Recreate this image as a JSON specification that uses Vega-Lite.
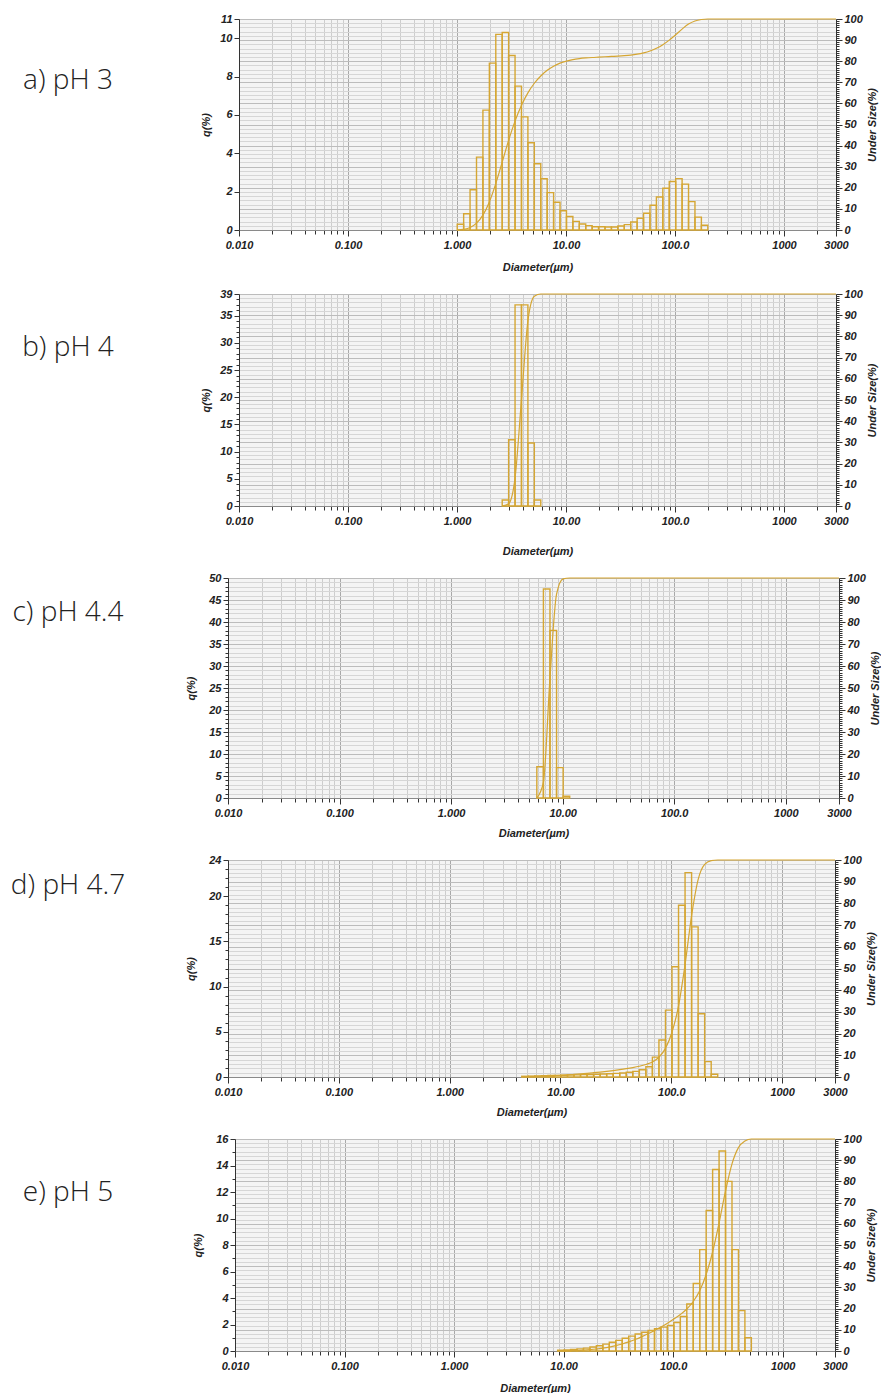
{
  "$schema": "https://vega.github.io/schema/vega-lite/v6.json",
  "padding": {"left": 0, "top": 13, "right": 0, "bottom": 0},
  "background": "white",
  "spacing": 16,
  "config": {
    "view": {"stroke": null},
    "axis": {
      "labelFont": "Liberation Sans", "labelFontSize": 11, "labelFontWeight": "bold", "labelFontStyle": "italic", "labelColor": "#222222",
      "titleFont": "Liberation Sans", "titleFontSize": 11, "titleFontWeight": "bold", "titleFontStyle": "italic", "titleColor": "#222222",
      "tickColor": "#333333", "domainColor": "#333333", "labelOverlap": false
    }
  },
  "datasets": {
    "ph3": [
      {"lo": 0.877, "hi": 1.005, "q": 0},
      {"lo": 1.005, "hi": 1.151, "q": 0.3},
      {"lo": 1.151, "hi": 1.318, "q": 0.85},
      {"lo": 1.318, "hi": 1.51, "q": 2.1},
      {"lo": 1.51, "hi": 1.729, "q": 3.8},
      {"lo": 1.729, "hi": 1.981, "q": 6.25},
      {"lo": 1.981, "hi": 2.269, "q": 8.7},
      {"lo": 2.269, "hi": 2.599, "q": 10.2},
      {"lo": 2.599, "hi": 2.976, "q": 10.3},
      {"lo": 2.976, "hi": 3.409, "q": 9.1},
      {"lo": 3.409, "hi": 3.905, "q": 7.5},
      {"lo": 3.905, "hi": 4.472, "q": 5.9},
      {"lo": 4.472, "hi": 5.122, "q": 4.55},
      {"lo": 5.122, "hi": 5.867, "q": 3.45},
      {"lo": 5.867, "hi": 6.72, "q": 2.67},
      {"lo": 6.72, "hi": 7.697, "q": 1.95},
      {"lo": 7.697, "hi": 8.816, "q": 1.45},
      {"lo": 8.816, "hi": 10.097, "q": 1.0},
      {"lo": 10.097, "hi": 11.565, "q": 0.7},
      {"lo": 11.565, "hi": 13.246, "q": 0.45},
      {"lo": 13.246, "hi": 15.172, "q": 0.31},
      {"lo": 15.172, "hi": 17.377, "q": 0.23},
      {"lo": 17.377, "hi": 19.904, "q": 0.17},
      {"lo": 19.904, "hi": 22.797, "q": 0.17},
      {"lo": 22.797, "hi": 26.111, "q": 0.16},
      {"lo": 26.111, "hi": 29.907, "q": 0.16},
      {"lo": 29.907, "hi": 34.255, "q": 0.21},
      {"lo": 34.255, "hi": 39.234, "q": 0.28},
      {"lo": 39.234, "hi": 44.938, "q": 0.42},
      {"lo": 44.938, "hi": 51.471, "q": 0.61},
      {"lo": 51.471, "hi": 58.953, "q": 0.87},
      {"lo": 58.953, "hi": 67.523, "q": 1.29},
      {"lo": 67.523, "hi": 77.339, "q": 1.72},
      {"lo": 77.339, "hi": 88.583, "q": 2.18},
      {"lo": 88.583, "hi": 101.46, "q": 2.53},
      {"lo": 101.46, "hi": 116.21, "q": 2.68},
      {"lo": 116.21, "hi": 133.103, "q": 2.39},
      {"lo": 133.103, "hi": 152.453, "q": 1.48},
      {"lo": 152.453, "hi": 174.616, "q": 0.67},
      {"lo": 174.616, "hi": 200.0, "q": 0.25},
      {"lo": 2636.467, "hi": 3000.0, "q": 0}
    ],
    "ph4": [
      {"lo": 2.269, "hi": 2.599, "q": 0},
      {"lo": 2.599, "hi": 2.976, "q": 1.1},
      {"lo": 2.976, "hi": 3.409, "q": 12.2},
      {"lo": 3.409, "hi": 3.905, "q": 37.0},
      {"lo": 3.905, "hi": 4.472, "q": 37.0},
      {"lo": 4.472, "hi": 5.122, "q": 11.6},
      {"lo": 5.122, "hi": 5.867, "q": 1.1},
      {"lo": 2636.467, "hi": 3000.0, "q": 0}
    ],
    "ph44": [
      {"lo": 5.122, "hi": 5.867, "q": 0},
      {"lo": 5.867, "hi": 6.72, "q": 7.1},
      {"lo": 6.72, "hi": 7.697, "q": 47.5},
      {"lo": 7.697, "hi": 8.816, "q": 38.1},
      {"lo": 8.816, "hi": 10.097, "q": 6.9},
      {"lo": 10.097, "hi": 11.565, "q": 0.4},
      {"lo": 2636.467, "hi": 3000.0, "q": 0}
    ],
    "ph47": [
      {"lo": 3.905, "hi": 4.472, "q": 0},
      {"lo": 4.472, "hi": 5.122, "q": 0.08},
      {"lo": 5.122, "hi": 5.867, "q": 0.1},
      {"lo": 5.867, "hi": 6.72, "q": 0.12},
      {"lo": 6.72, "hi": 7.697, "q": 0.14},
      {"lo": 7.697, "hi": 8.816, "q": 0.16},
      {"lo": 8.816, "hi": 10.097, "q": 0.18},
      {"lo": 10.097, "hi": 11.565, "q": 0.2},
      {"lo": 11.565, "hi": 13.246, "q": 0.22},
      {"lo": 13.246, "hi": 15.172, "q": 0.24},
      {"lo": 15.172, "hi": 17.377, "q": 0.26},
      {"lo": 17.377, "hi": 19.904, "q": 0.28},
      {"lo": 19.904, "hi": 22.797, "q": 0.3},
      {"lo": 22.797, "hi": 26.111, "q": 0.33},
      {"lo": 26.111, "hi": 29.907, "q": 0.36},
      {"lo": 29.907, "hi": 34.255, "q": 0.4},
      {"lo": 34.255, "hi": 39.234, "q": 0.45},
      {"lo": 39.234, "hi": 44.938, "q": 0.52},
      {"lo": 44.938, "hi": 51.471, "q": 0.62},
      {"lo": 51.471, "hi": 58.953, "q": 0.8},
      {"lo": 58.953, "hi": 67.523, "q": 1.14},
      {"lo": 67.523, "hi": 77.339, "q": 2.2},
      {"lo": 77.339, "hi": 88.583, "q": 4.1},
      {"lo": 88.583, "hi": 101.46, "q": 7.4},
      {"lo": 101.46, "hi": 116.21, "q": 12.2},
      {"lo": 116.21, "hi": 133.103, "q": 19.0},
      {"lo": 133.103, "hi": 152.453, "q": 22.6},
      {"lo": 152.453, "hi": 174.616, "q": 16.6},
      {"lo": 174.616, "hi": 200.0, "q": 7.0},
      {"lo": 200.0, "hi": 229.075, "q": 1.7},
      {"lo": 229.075, "hi": 262.376, "q": 0.3},
      {"lo": 2636.467, "hi": 3000.0, "q": 0}
    ],
    "ph5": [
      {"lo": 7.697, "hi": 8.816, "q": 0},
      {"lo": 8.816, "hi": 10.097, "q": 0.06},
      {"lo": 10.097, "hi": 11.565, "q": 0.08},
      {"lo": 11.565, "hi": 13.246, "q": 0.12},
      {"lo": 13.246, "hi": 15.172, "q": 0.16},
      {"lo": 15.172, "hi": 17.377, "q": 0.22},
      {"lo": 17.377, "hi": 19.904, "q": 0.3},
      {"lo": 19.904, "hi": 22.797, "q": 0.4},
      {"lo": 22.797, "hi": 26.111, "q": 0.52},
      {"lo": 26.111, "hi": 29.907, "q": 0.66},
      {"lo": 29.907, "hi": 34.255, "q": 0.8},
      {"lo": 34.255, "hi": 39.234, "q": 0.96},
      {"lo": 39.234, "hi": 44.938, "q": 1.12},
      {"lo": 44.938, "hi": 51.471, "q": 1.28},
      {"lo": 51.471, "hi": 58.953, "q": 1.42},
      {"lo": 58.953, "hi": 67.523, "q": 1.55},
      {"lo": 67.523, "hi": 77.339, "q": 1.68},
      {"lo": 77.339, "hi": 88.583, "q": 1.8},
      {"lo": 88.583, "hi": 101.46, "q": 1.92},
      {"lo": 101.46, "hi": 116.21, "q": 2.15},
      {"lo": 116.21, "hi": 133.103, "q": 2.6},
      {"lo": 133.103, "hi": 152.453, "q": 3.55},
      {"lo": 152.453, "hi": 174.616, "q": 5.1},
      {"lo": 174.616, "hi": 200.0, "q": 7.65},
      {"lo": 200.0, "hi": 229.075, "q": 10.6},
      {"lo": 229.075, "hi": 262.376, "q": 13.7},
      {"lo": 262.376, "hi": 300.518, "q": 15.1},
      {"lo": 300.518, "hi": 344.206, "q": 12.8},
      {"lo": 344.206, "hi": 394.244, "q": 7.65},
      {"lo": 394.244, "hi": 451.556, "q": 3.05},
      {"lo": 451.556, "hi": 517.2, "q": 1.0},
      {"lo": 2636.467, "hi": 3000.0, "q": 0}
    ]
  },
  "vconcat": [
    {
      "spacing": 64,
      "hconcat": [
        {"width": 136, "height": 124, "data": {"values": [{"label": "a) pH 3"}]},
         "mark": {"type": "text", "font": "Open Sans", "fontSize": 28, "fontWeight": 300, "color": "#222222"},
         "encoding": {"text": {"field": "label"}}},
        {"width": 597, "height": 211, "view": {"fill": "#f4f4f4"}, "data": {"name": "ph3"},
         "resolve": {"scale": {"y": "independent"}},
         "layer": [
           {"transform": [{"filter": "datum.q > 0"}],
            "mark": {"type": "bar", "fillOpacity": 0, "stroke": "#d5a633", "strokeWidth": 1.4},
            "encoding": {
              "x": {"field": "lo", "type": "quantitative", "scale": {"type": "log", "domain": [0.01, 3000], "nice": false},
                    "axis": {"title": "Diameter(µm)", "titlePadding": 11,
                             "values": [0.01,0.02,0.03,0.04,0.05,0.06,0.07,0.08,0.09,0.1,0.2,0.3,0.4,0.5,0.6,0.7,0.8,0.9,1,2,3,4,5,6,7,8,9,10,20,30,40,50,60,70,80,90,100,200,300,400,500,600,700,800,900,1000,2000,3000],
                             "labelExpr": "datum.value == 0.01 ? '0.010' : datum.value == 0.1 ? '0.100' : datum.value == 1 ? '1.000' : datum.value == 10 ? '10.00' : datum.value == 100 ? '100.0' : datum.value == 1000 ? '1000' : datum.value == 3000 ? '3000' : ''",
                             "labelFlush": false, "labelPadding": 3, "domainColor": "#8a8a8a",
                             "tickSize": {"condition": {"test": "indexof([0.01,0.1,1,10,100,1000,3000], datum.value) >= 0", "value": 6}, "value": 4},
                             "grid": true,
                             "gridColor": {"condition": {"test": "indexof([0.01,0.1,1,10,100,1000,3000], datum.value) >= 0", "value": "#a9a9a9"}, "value": "#cdcdcd"}}},
              "x2": {"field": "hi"},
              "y": {"field": "q", "type": "quantitative", "stack": null, "scale": {"domain": [0, 11], "nice": false},
                    "axis": {"title": "q(%)", "titlePadding": 8, "values": [0,2,4,6,8,10,11], "format": "d", "tickSize": 5, "labelPadding": 2, "grid": false}},
              "y2": {"datum": 0}
            }},
           {"transform": [{"window": [{"op": "sum", "field": "q", "as": "cum"}], "sort": [{"field": "lo", "order": "ascending"}], "frame": [null, 0]}],
            "mark": {"type": "line", "interpolate": "monotone", "color": "#d5a633", "strokeWidth": 1.2},
            "encoding": {
              "x": {"field": "hi", "type": "quantitative", "scale": {"type": "log", "domain": [0.01, 3000], "nice": false}},
              "y": {"field": "cum", "type": "quantitative", "scale": {"domain": [0, 100], "nice": false},
                    "axis": {"orient": "right", "title": "Under Size(%)", "titleAngle": 270, "titleBaseline": "top", "titlePadding": 4, "labelPadding": 2,
                             "values": [0,1,2,3,4,5,6,7,8,9,10,11,12,13,14,15,16,17,18,19,20,21,22,23,24,25,26,27,28,29,30,31,32,33,34,35,36,37,38,39,40,41,42,43,44,45,46,47,48,49,50,51,52,53,54,55,56,57,58,59,60,61,62,63,64,65,66,67,68,69,70,71,72,73,74,75,76,77,78,79,80,81,82,83,84,85,86,87,88,89,90,91,92,93,94,95,96,97,98,99,100],
                             "labelExpr": "datum.value % 10 == 0 ? datum.label : ''",
                             "tickSize": {"condition": {"test": "datum.value % 10 == 0", "value": 6}, "value": 3},
                             "grid": true,
                             "gridOpacity": {"condition": {"test": "datum.value % 2 == 0", "value": 1}, "value": 0},
                             "gridColor": {"condition": {"test": "datum.value % 10 == 0", "value": "#bcbcbc"}, "value": "#d6d6d6"}}}
            }}
         ]}
      ]
    },
    {
      "spacing": 64,
      "hconcat": [
        {"width": 136, "height": 108, "data": {"values": [{"label": "b) pH 4"}]},
         "mark": {"type": "text", "font": "Open Sans", "fontSize": 28, "fontWeight": 300, "color": "#222222"},
         "encoding": {"text": {"field": "label"}}},
        {"width": 597, "height": 212, "view": {"fill": "#f4f4f4"}, "data": {"name": "ph4"},
         "resolve": {"scale": {"y": "independent"}},
         "layer": [
           {"transform": [{"filter": "datum.q > 0"}],
            "mark": {"type": "bar", "fillOpacity": 0, "stroke": "#d5a633", "strokeWidth": 1.4},
            "encoding": {
              "x": {"field": "lo", "type": "quantitative", "scale": {"type": "log", "domain": [0.01, 3000], "nice": false},
                    "axis": {"title": "Diameter(µm)", "titlePadding": 19,
                             "values": [0.01,0.02,0.03,0.04,0.05,0.06,0.07,0.08,0.09,0.1,0.2,0.3,0.4,0.5,0.6,0.7,0.8,0.9,1,2,3,4,5,6,7,8,9,10,20,30,40,50,60,70,80,90,100,200,300,400,500,600,700,800,900,1000,2000,3000],
                             "labelExpr": "datum.value == 0.01 ? '0.010' : datum.value == 0.1 ? '0.100' : datum.value == 1 ? '1.000' : datum.value == 10 ? '10.00' : datum.value == 100 ? '100.0' : datum.value == 1000 ? '1000' : datum.value == 3000 ? '3000' : ''",
                             "labelFlush": false, "labelPadding": 3, "domainColor": "#8a8a8a",
                             "tickSize": {"condition": {"test": "indexof([0.01,0.1,1,10,100,1000,3000], datum.value) >= 0", "value": 6}, "value": 4},
                             "grid": true,
                             "gridColor": {"condition": {"test": "indexof([0.01,0.1,1,10,100,1000,3000], datum.value) >= 0", "value": "#a9a9a9"}, "value": "#cdcdcd"}}},
              "x2": {"field": "hi"},
              "y": {"field": "q", "type": "quantitative", "stack": null, "scale": {"domain": [0, 39], "nice": false},
                    "axis": {"title": "q(%)", "titlePadding": 8, "labelPadding": 2, "grid": false, "format": "d",
                             "values": [0,1,2,3,4,5,6,7,8,9,10,11,12,13,14,15,16,17,18,19,20,21,22,23,24,25,26,27,28,29,30,31,32,33,34,35,36,37,38,39],
                             "labelExpr": "datum.value % 5 == 0 || datum.value == 39 ? datum.label : ''",
                             "tickSize": {"condition": {"test": "datum.value % 5 == 0 || datum.value == 39", "value": 5}, "value": 3}}},
              "y2": {"datum": 0}
            }},
           {"transform": [{"window": [{"op": "sum", "field": "q", "as": "cum"}], "sort": [{"field": "lo", "order": "ascending"}], "frame": [null, 0]}],
            "mark": {"type": "line", "interpolate": "monotone", "color": "#d5a633", "strokeWidth": 1.2},
            "encoding": {
              "x": {"field": "hi", "type": "quantitative", "scale": {"type": "log", "domain": [0.01, 3000], "nice": false}},
              "y": {"field": "cum", "type": "quantitative", "scale": {"domain": [0, 100], "nice": false},
                    "axis": {"orient": "right", "title": "Under Size(%)", "titleAngle": 270, "titleBaseline": "top", "titlePadding": 4, "labelPadding": 2,
                             "values": [0,1,2,3,4,5,6,7,8,9,10,11,12,13,14,15,16,17,18,19,20,21,22,23,24,25,26,27,28,29,30,31,32,33,34,35,36,37,38,39,40,41,42,43,44,45,46,47,48,49,50,51,52,53,54,55,56,57,58,59,60,61,62,63,64,65,66,67,68,69,70,71,72,73,74,75,76,77,78,79,80,81,82,83,84,85,86,87,88,89,90,91,92,93,94,95,96,97,98,99,100],
                             "labelExpr": "datum.value % 10 == 0 ? datum.label : ''",
                             "tickSize": {"condition": {"test": "datum.value % 10 == 0", "value": 6}, "value": 3},
                             "grid": true,
                             "gridOpacity": {"condition": {"test": "datum.value % 2 == 0", "value": 1}, "value": 0},
                             "gridColor": {"condition": {"test": "datum.value % 10 == 0", "value": "#bcbcbc"}, "value": "#d6d6d6"}}}
            }}
         ]}
      ]
    },
    {
      "spacing": 49,
      "hconcat": [
        {"width": 136, "height": 70, "data": {"values": [{"label": "c) pH 4.4"}]},
         "mark": {"type": "text", "font": "Open Sans", "fontSize": 28, "fontWeight": 300, "color": "#222222"},
         "encoding": {"text": {"field": "label"}}},
        {"width": 611, "height": 220, "view": {"fill": "#f4f4f4"}, "data": {"name": "ph44"},
         "resolve": {"scale": {"y": "independent"}},
         "layer": [
           {"transform": [{"filter": "datum.q > 0"}],
            "mark": {"type": "bar", "fillOpacity": 0, "stroke": "#d5a633", "strokeWidth": 1.4},
            "encoding": {
              "x": {"field": "lo", "type": "quantitative", "scale": {"type": "log", "domain": [0.01, 3000], "nice": false},
                    "axis": {"title": "Diameter(µm)", "titlePadding": 9,
                             "values": [0.01,0.02,0.03,0.04,0.05,0.06,0.07,0.08,0.09,0.1,0.2,0.3,0.4,0.5,0.6,0.7,0.8,0.9,1,2,3,4,5,6,7,8,9,10,20,30,40,50,60,70,80,90,100,200,300,400,500,600,700,800,900,1000,2000,3000],
                             "labelExpr": "datum.value == 0.01 ? '0.010' : datum.value == 0.1 ? '0.100' : datum.value == 1 ? '1.000' : datum.value == 10 ? '10.00' : datum.value == 100 ? '100.0' : datum.value == 1000 ? '1000' : datum.value == 3000 ? '3000' : ''",
                             "labelFlush": false, "labelPadding": 3, "domainColor": "#8a8a8a",
                             "tickSize": {"condition": {"test": "indexof([0.01,0.1,1,10,100,1000,3000], datum.value) >= 0", "value": 6}, "value": 4},
                             "grid": true,
                             "gridColor": {"condition": {"test": "indexof([0.01,0.1,1,10,100,1000,3000], datum.value) >= 0", "value": "#a9a9a9"}, "value": "#cdcdcd"}}},
              "x2": {"field": "hi"},
              "y": {"field": "q", "type": "quantitative", "stack": null, "scale": {"domain": [0, 50], "nice": false},
                    "axis": {"title": "q(%)", "titlePadding": 12, "labelPadding": 2, "grid": false, "format": "d",
                             "values": [0,1,2,3,4,5,6,7,8,9,10,11,12,13,14,15,16,17,18,19,20,21,22,23,24,25,26,27,28,29,30,31,32,33,34,35,36,37,38,39,40,41,42,43,44,45,46,47,48,49,50],
                             "labelExpr": "datum.value % 5 == 0 ? datum.label : ''",
                             "tickSize": {"condition": {"test": "datum.value % 5 == 0", "value": 5}, "value": 3}}},
              "y2": {"datum": 0}
            }},
           {"transform": [{"window": [{"op": "sum", "field": "q", "as": "cum"}], "sort": [{"field": "lo", "order": "ascending"}], "frame": [null, 0]}],
            "mark": {"type": "line", "interpolate": "monotone", "color": "#d5a633", "strokeWidth": 1.2},
            "encoding": {
              "x": {"field": "hi", "type": "quantitative", "scale": {"type": "log", "domain": [0.01, 3000], "nice": false}},
              "y": {"field": "cum", "type": "quantitative", "scale": {"domain": [0, 100], "nice": false},
                    "axis": {"orient": "right", "title": "Under Size(%)", "titleAngle": 270, "titleBaseline": "top", "titlePadding": 4, "labelPadding": 2,
                             "values": [0,1,2,3,4,5,6,7,8,9,10,11,12,13,14,15,16,17,18,19,20,21,22,23,24,25,26,27,28,29,30,31,32,33,34,35,36,37,38,39,40,41,42,43,44,45,46,47,48,49,50,51,52,53,54,55,56,57,58,59,60,61,62,63,64,65,66,67,68,69,70,71,72,73,74,75,76,77,78,79,80,81,82,83,84,85,86,87,88,89,90,91,92,93,94,95,96,97,98,99,100],
                             "labelExpr": "datum.value % 10 == 0 ? datum.label : ''",
                             "tickSize": {"condition": {"test": "datum.value % 10 == 0", "value": 6}, "value": 3},
                             "grid": true,
                             "gridOpacity": {"condition": {"test": "datum.value % 2 == 0", "value": 1}, "value": 0},
                             "gridColor": {"condition": {"test": "datum.value % 10 == 0", "value": "#bcbcbc"}, "value": "#d6d6d6"}}}
            }}
         ]}
      ]
    },
    {
      "spacing": 49,
      "hconcat": [
        {"width": 136, "height": 52, "data": {"values": [{"label": "d) pH 4.7"}]},
         "mark": {"type": "text", "font": "Open Sans", "fontSize": 28, "fontWeight": 300, "color": "#222222"},
         "encoding": {"text": {"field": "label"}}},
        {"width": 607, "height": 217, "view": {"fill": "#f4f4f4"}, "data": {"name": "ph47"},
         "resolve": {"scale": {"y": "independent"}},
         "layer": [
           {"transform": [{"filter": "datum.q > 0"}],
            "mark": {"type": "bar", "fillOpacity": 0, "stroke": "#d5a633", "strokeWidth": 1.4},
            "encoding": {
              "x": {"field": "lo", "type": "quantitative", "scale": {"type": "log", "domain": [0.01, 3000], "nice": false},
                    "axis": {"title": "Diameter(µm)", "titlePadding": 9,
                             "values": [0.01,0.02,0.03,0.04,0.05,0.06,0.07,0.08,0.09,0.1,0.2,0.3,0.4,0.5,0.6,0.7,0.8,0.9,1,2,3,4,5,6,7,8,9,10,20,30,40,50,60,70,80,90,100,200,300,400,500,600,700,800,900,1000,2000,3000],
                             "labelExpr": "datum.value == 0.01 ? '0.010' : datum.value == 0.1 ? '0.100' : datum.value == 1 ? '1.000' : datum.value == 10 ? '10.00' : datum.value == 100 ? '100.0' : datum.value == 1000 ? '1000' : datum.value == 3000 ? '3000' : ''",
                             "labelFlush": false, "labelPadding": 3, "domainColor": "#8a8a8a",
                             "tickSize": {"condition": {"test": "indexof([0.01,0.1,1,10,100,1000,3000], datum.value) >= 0", "value": 6}, "value": 4},
                             "grid": true,
                             "gridColor": {"condition": {"test": "indexof([0.01,0.1,1,10,100,1000,3000], datum.value) >= 0", "value": "#a9a9a9"}, "value": "#cdcdcd"}}},
              "x2": {"field": "hi"},
              "y": {"field": "q", "type": "quantitative", "stack": null, "scale": {"domain": [0, 24], "nice": false},
                    "axis": {"title": "q(%)", "titlePadding": 12, "labelPadding": 2, "grid": false, "format": "d",
                             "values": [0,0.5,1,1.5,2,2.5,3,3.5,4,4.5,5,5.5,6,6.5,7,7.5,8,8.5,9,9.5,10,10.5,11,11.5,12,12.5,13,13.5,14,14.5,15,15.5,16,16.5,17,17.5,18,18.5,19,19.5,20,20.5,21,21.5,22,22.5,23,23.5,24],
                             "labelExpr": "datum.value % 5 == 0 || datum.value == 24 ? datum.label : ''",
                             "tickSize": {"condition": {"test": "datum.value % 5 == 0 || datum.value == 24", "value": 5}, "value": 3}}},
              "y2": {"datum": 0}
            }},
           {"transform": [{"window": [{"op": "sum", "field": "q", "as": "cum"}], "sort": [{"field": "lo", "order": "ascending"}], "frame": [null, 0]}],
            "mark": {"type": "line", "interpolate": "monotone", "color": "#d5a633", "strokeWidth": 1.2},
            "encoding": {
              "x": {"field": "hi", "type": "quantitative", "scale": {"type": "log", "domain": [0.01, 3000], "nice": false}},
              "y": {"field": "cum", "type": "quantitative", "scale": {"domain": [0, 100], "nice": false},
                    "axis": {"orient": "right", "title": "Under Size(%)", "titleAngle": 270, "titleBaseline": "top", "titlePadding": 4, "labelPadding": 2,
                             "values": [0,1,2,3,4,5,6,7,8,9,10,11,12,13,14,15,16,17,18,19,20,21,22,23,24,25,26,27,28,29,30,31,32,33,34,35,36,37,38,39,40,41,42,43,44,45,46,47,48,49,50,51,52,53,54,55,56,57,58,59,60,61,62,63,64,65,66,67,68,69,70,71,72,73,74,75,76,77,78,79,80,81,82,83,84,85,86,87,88,89,90,91,92,93,94,95,96,97,98,99,100],
                             "labelExpr": "datum.value % 10 == 0 ? datum.label : ''",
                             "tickSize": {"condition": {"test": "datum.value % 10 == 0", "value": 6}, "value": 3},
                             "grid": true,
                             "gridOpacity": {"condition": {"test": "datum.value % 2 == 0", "value": 1}, "value": 0},
                             "gridColor": {"condition": {"test": "datum.value % 10 == 0", "value": "#bcbcbc"}, "value": "#d6d6d6"}}}
            }}
         ]}
      ]
    },
    {
      "spacing": 56,
      "hconcat": [
        {"width": 136, "height": 108, "data": {"values": [{"label": "e) pH 5"}]},
         "mark": {"type": "text", "font": "Open Sans", "fontSize": 28, "fontWeight": 300, "color": "#222222"},
         "encoding": {"text": {"field": "label"}}},
        {"width": 600, "height": 212, "view": {"fill": "#f4f4f4"}, "data": {"name": "ph5"},
         "resolve": {"scale": {"y": "independent"}},
         "layer": [
           {"transform": [{"filter": "datum.q > 0"}],
            "mark": {"type": "bar", "fillOpacity": 0, "stroke": "#d5a633", "strokeWidth": 1.4},
            "encoding": {
              "x": {"field": "lo", "type": "quantitative", "scale": {"type": "log", "domain": [0.01, 3000], "nice": false},
                    "axis": {"title": "Diameter(µm)", "titlePadding": 11,
                             "values": [0.01,0.02,0.03,0.04,0.05,0.06,0.07,0.08,0.09,0.1,0.2,0.3,0.4,0.5,0.6,0.7,0.8,0.9,1,2,3,4,5,6,7,8,9,10,20,30,40,50,60,70,80,90,100,200,300,400,500,600,700,800,900,1000,2000,3000],
                             "labelExpr": "datum.value == 0.01 ? '0.010' : datum.value == 0.1 ? '0.100' : datum.value == 1 ? '1.000' : datum.value == 10 ? '10.00' : datum.value == 100 ? '100.0' : datum.value == 1000 ? '1000' : datum.value == 3000 ? '3000' : ''",
                             "labelFlush": false, "labelPadding": 3, "domainColor": "#8a8a8a",
                             "tickSize": {"condition": {"test": "indexof([0.01,0.1,1,10,100,1000,3000], datum.value) >= 0", "value": 6}, "value": 4},
                             "grid": true,
                             "gridColor": {"condition": {"test": "indexof([0.01,0.1,1,10,100,1000,3000], datum.value) >= 0", "value": "#a9a9a9"}, "value": "#cdcdcd"}}},
              "x2": {"field": "hi"},
              "y": {"field": "q", "type": "quantitative", "stack": null, "scale": {"domain": [0, 16], "nice": false},
                    "axis": {"title": "q(%)", "titlePadding": 12, "labelPadding": 2, "grid": false, "format": "d",
                             "values": [0,0.25,0.5,0.75,1,1.25,1.5,1.75,2,2.25,2.5,2.75,3,3.25,3.5,3.75,4,4.25,4.5,4.75,5,5.25,5.5,5.75,6,6.25,6.5,6.75,7,7.25,7.5,7.75,8,8.25,8.5,8.75,9,9.25,9.5,9.75,10,10.25,10.5,10.75,11,11.25,11.5,11.75,12,12.25,12.5,12.75,13,13.25,13.5,13.75,14,14.25,14.5,14.75,15,15.25,15.5,15.75,16],
                             "labelExpr": "datum.value % 2 == 0 ? datum.label : ''",
                             "tickSize": {"condition": {"test": "datum.value % 2 == 0", "value": 5}, "value": 3}}},
              "y2": {"datum": 0}
            }},
           {"transform": [{"window": [{"op": "sum", "field": "q", "as": "cum"}], "sort": [{"field": "lo", "order": "ascending"}], "frame": [null, 0]}],
            "mark": {"type": "line", "interpolate": "monotone", "color": "#d5a633", "strokeWidth": 1.2},
            "encoding": {
              "x": {"field": "hi", "type": "quantitative", "scale": {"type": "log", "domain": [0.01, 3000], "nice": false}},
              "y": {"field": "cum", "type": "quantitative", "scale": {"domain": [0, 100], "nice": false},
                    "axis": {"orient": "right", "title": "Under Size(%)", "titleAngle": 270, "titleBaseline": "top", "titlePadding": 4, "labelPadding": 2,
                             "values": [0,1,2,3,4,5,6,7,8,9,10,11,12,13,14,15,16,17,18,19,20,21,22,23,24,25,26,27,28,29,30,31,32,33,34,35,36,37,38,39,40,41,42,43,44,45,46,47,48,49,50,51,52,53,54,55,56,57,58,59,60,61,62,63,64,65,66,67,68,69,70,71,72,73,74,75,76,77,78,79,80,81,82,83,84,85,86,87,88,89,90,91,92,93,94,95,96,97,98,99,100],
                             "labelExpr": "datum.value % 10 == 0 ? datum.label : ''",
                             "tickSize": {"condition": {"test": "datum.value % 10 == 0", "value": 6}, "value": 3},
                             "grid": true,
                             "gridOpacity": {"condition": {"test": "datum.value % 2 == 0", "value": 1}, "value": 0},
                             "gridColor": {"condition": {"test": "datum.value % 10 == 0", "value": "#bcbcbc"}, "value": "#d6d6d6"}}}
            }}
         ]}
      ]
    }
  ]
}
